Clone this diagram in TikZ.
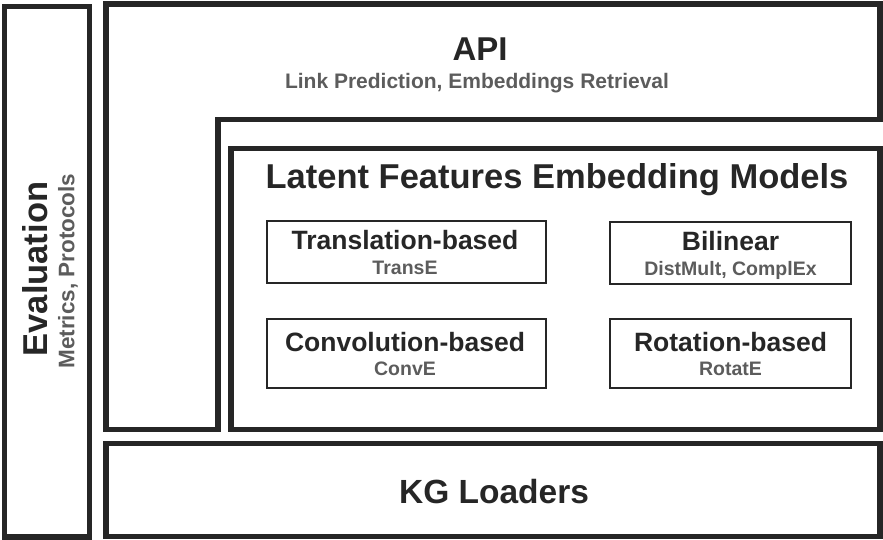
\documentclass[tikz,border=0pt]{standalone}
\usepackage{fontspec}
\setmainfont{Liberation Sans}
\definecolor{ink}{HTML}{262626}
\definecolor{greyink}{HTML}{5C5C5C}
\begin{document}
\begin{tikzpicture}[x=1pt,y=-1pt,
  layer/.style={draw=ink, line width=5.5, inner sep=0, outer sep=0, line join=miter},
  model/.style={draw=ink, line width=2, inner sep=0, outer sep=0},
  head/.style={anchor=base, text=ink, font=\bfseries\fontsize{#1}{#1}\selectfont},
  note/.style={anchor=base, text=greyink, font=\bfseries\fontsize{#1}{#1}\selectfont}]
\useasboundingbox (0,0) rectangle (883,539);
% outer layers
\node[layer, minimum width=84.8, minimum height=530.5] (eval) at (47.1,271.7) {};
\draw[layer] (106,4.2) -- (880,4.2) -- (880,119.3) -- (218,119.3) -- (218,429.5) -- (106,429.5) -- cycle;
\node[layer, minimum width=649, minimum height=281.2] (lfem) at (555.5,288.9) {};
\node[layer, minimum width=774, minimum height=92.6] (kg) at (493,490) {};
% model families
\node[model, minimum width=279, minimum height=62] (trans) at (406.3,251.5) {};
\node[model, minimum width=241, minimum height=62] (bilin) at (730.5,252.5) {};
\node[model, minimum width=279, minimum height=69] (conv) at (406.3,353.5) {};
\node[model, minimum width=241, minimum height=69] (rot) at (730.5,353) {};
% texts
\node[head=33] (apiT) at (480,60.7) {API};
\node[note=21] (apiS) at (477,88.5) {Link Prediction, Embeddings Retrieval};
\node[head=34.5] (lfemT) at (557,188.3) {Latent Features Embedding Models};
\node[head=26.5] (transT) at (405,249) {Translation-based};
\node[note=19.5] (transS) at (405,274) {TransE};
\node[head=26.5] (bilinT) at (730.5,250) {Bilinear};
\node[note=19.5] (bilinS) at (730.5,275.5) {DistMult, ComplEx};
\node[head=26.5] (convT) at (405,351.5) {Convolution-based};
\node[note=19.5] (convS) at (405,375) {ConvE};
\node[head=26.5] (rotT) at (730.5,351.5) {Rotation-based};
\node[note=19.5] (rotS) at (730.5,375.5) {RotatE};
\node[head=33.5] (kgT) at (494,503) {KG Loaders};
\node[head=34.5, rotate=90, anchor=center] (evalT) at (35,269) {Evaluation};
\node[note=22.5, rotate=90, anchor=center] (evalS) at (68,271) {Metrics, Protocols};
\end{tikzpicture}
\end{document}
